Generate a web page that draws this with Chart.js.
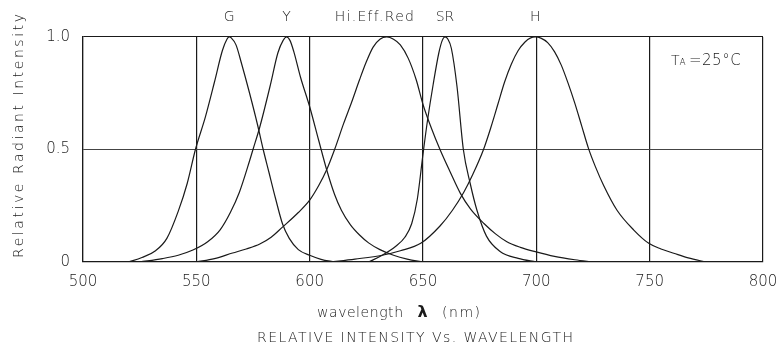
<!DOCTYPE html>
<html>
<head>
<meta charset="utf-8">
<script src="https://cdn.jsdelivr.net/npm/chart.js@4/dist/chart.umd.min.js"></script>
<style>
  html, body { margin: 0; padding: 0; background: #fff; }
  #c { display: block; }
</style>
</head>
<body>
<canvas id="c" width="780" height="349"></canvas>
<script>
// Relative spectral intensity of five LED colours versus wavelength (nm)
const gWavelength = [520, 526, 532, 537, 542, 546, 549.6, 554, 558, 561.5, 563.5, 564.5, 565.5, 567.5, 570, 573.5, 577, 579.5, 582, 585, 588, 591, 595, 600, 605, 611];
const gIntensity  = [0, 0.02, 0.05, 0.105, 0.225, 0.35, 0.5, 0.645, 0.8, 0.94, 0.99, 1.0, 0.995, 0.965, 0.88, 0.75, 0.61, 0.5, 0.4, 0.28, 0.17, 0.105, 0.055, 0.03, 0.012, 0];

const yWavelength = [525, 535, 542, 548.5, 555, 560.5, 565, 569, 573.5, 575, 578, 582.5, 586, 588.3, 589.8, 591.3, 593, 596, 600, 604, 607.5, 611, 614, 618, 622, 626, 631, 637, 643, 650];
const yIntensity  = [0, 0.015, 0.03, 0.053, 0.09, 0.143, 0.22, 0.31, 0.45, 0.5, 0.6, 0.78, 0.93, 0.985, 1.0, 0.985, 0.935, 0.82, 0.69, 0.54, 0.41, 0.3, 0.23, 0.165, 0.12, 0.085, 0.055, 0.03, 0.013, 0];

const redWavelength = [550, 558, 566, 572, 578, 583, 588, 595, 600, 604, 607.5, 611, 615, 618.5, 622, 625, 628, 631, 634, 637, 640, 643.5, 647, 650, 653.5, 657.5, 662, 666.5, 671, 677, 682, 687, 693, 699.5, 708, 717, 725];
const redIntensity  = [0, 0.015, 0.04, 0.058, 0.08, 0.11, 0.155, 0.22, 0.275, 0.34, 0.41, 0.5, 0.616, 0.71, 0.81, 0.89, 0.955, 0.99, 1.0, 0.99, 0.965, 0.905, 0.81, 0.7, 0.6, 0.5, 0.4, 0.305, 0.235, 0.17, 0.125, 0.09, 0.065, 0.046, 0.025, 0.01, 0];

const srWavelength = [626, 632, 638, 642, 645, 647.5, 650, 652, 654.5, 657, 658.5, 659.7, 661, 662.5, 665, 667.8, 670.8, 673.8, 678, 684, 692, 700];
const srIntensity  = [0, 0.03, 0.07, 0.11, 0.17, 0.28, 0.48, 0.63, 0.79, 0.93, 0.985, 1.0, 0.99, 0.95, 0.78, 0.5, 0.35, 0.23, 0.115, 0.047, 0.016, 0];

const hWavelength = [609, 620, 632, 640, 649, 657.5, 663, 668, 672, 676.7, 680, 683, 686, 689, 692, 695, 697.5, 699.5, 702, 705, 708, 711, 714, 717, 720, 723, 726, 729.7, 735.6, 743, 749.6, 755, 760.6, 767, 775];
const hIntensity  = [0, 0.013, 0.03, 0.05, 0.083, 0.16, 0.23, 0.31, 0.39, 0.5, 0.6, 0.7, 0.8, 0.88, 0.94, 0.978, 0.996, 1.0, 0.995, 0.975, 0.935, 0.875, 0.795, 0.705, 0.605, 0.505, 0.425, 0.34, 0.23, 0.142, 0.083, 0.058, 0.039, 0.018, 0];

const seriesNames = ['G', 'Y', 'Hi.Eff.Red', 'SR', 'H'];
const seriesWavelengths = [gWavelength, yWavelength, redWavelength, srWavelength, hWavelength];
const seriesIntensities = [gIntensity, yIntensity, redIntensity, srIntensity, hIntensity];

const xTickValues = [500, 550, 600, 650, 700, 750, 800];
const yTickValues = [0, 0.5, 1.0];

const FONT = "'DejaVu Sans', 'Liberation Sans', sans-serif";
const INK = '#1a1a1a';

function toPoints(xs, ys) {
  return xs.map((x, i) => ({ x: x, y: ys[i] }));
}

const datasets = seriesNames.map((name, i) => ({
  label: name,
  data: toPoints(seriesWavelengths[i], seriesIntensities[i]),
  borderColor: INK,
  borderWidth: 1.2,
  pointRadius: 0,
  fill: false,
  cubicInterpolationMode: 'monotone'
}));

// Draw a string stretched with letter spacing so it spans a given width
function spacedText(ctx, text, cx, cy, font, width) {
  ctx.save();
  ctx.font = font;
  ctx.letterSpacing = '0px';
  const natural = ctx.measureText(text).width;
  const gap = text.length > 1 ? Math.max(0, (width - natural) / (text.length - 1)) : 0;
  ctx.letterSpacing = gap + 'px';
  const total = natural + gap * (text.length - 1);
  ctx.textAlign = 'left';
  ctx.textBaseline = 'middle';
  ctx.fillText(text, cx - total / 2, cy);
  ctx.restore();
}

const annotations = {
  id: 'annotations',
  afterDraw(chart) {
    const ctx = chart.ctx;
    const xs = chart.scales.x;
    ctx.save();
    ctx.fillStyle = INK;

    // curve names above the peak of each curve
    seriesNames.forEach((name, i) => {
      const ys = seriesIntensities[i];
      const peak = seriesWavelengths[i][ys.indexOf(Math.max(...ys))];
      let px = xs.getPixelForValue(peak);
      if (name === 'Hi.Eff.Red') px -= 12;
      const w = name === 'Hi.Eff.Red' ? 80 : 0;
      spacedText(ctx, name, px, 17, '300 14px ' + FONT, w);
    });

    // ambient temperature note
    ctx.font = '300 14px ' + FONT;
    ctx.textBaseline = 'alphabetic';
    ctx.textAlign = 'left';
    ctx.fillText('T', 671, 65);
    ctx.font = '300 9px ' + FONT;
    ctx.fillText('A', 679.5, 65);
    ctx.font = '300 15px ' + FONT;
    ctx.letterSpacing = '0.5px';
    ctx.fillText('=25°C', 689, 65);
    ctx.letterSpacing = '0px';

    // vertical axis title
    ctx.save();
    ctx.translate(19, 136);
    ctx.rotate(-Math.PI / 2);
    spacedText(ctx, 'Relative Radiant Intensity', 0, 0, '300 14px ' + FONT, 244);
    ctx.restore();

    // horizontal axis title: wavelength λ (nm)
    spacedText(ctx, 'wavelength', 360, 313, '300 14px ' + FONT, 86);
    ctx.font = 'bold 16px ' + FONT;
    ctx.textAlign = 'center';
    ctx.textBaseline = 'middle';
    ctx.fillText('λ', 422.5, 313);
    spacedText(ctx, '(nm)', 461, 313, '300 14px ' + FONT, 38);

    // caption
    spacedText(ctx, 'RELATIVE INTENSITY Vs. WAVELENGTH', 415, 338, '300 14px ' + FONT, 316);
    ctx.restore();
  }
};

new Chart(document.getElementById('c'), {
  type: 'line',
  data: { datasets: datasets },
  plugins: [annotations],
  options: {
    responsive: false,
    animation: false,
    events: [],
    layout: { padding: { top: 37, right: 17, left: 0, bottom: 0 } },
    plugins: { legend: { display: false }, tooltip: { enabled: false } },
    scales: {
      x: {
        type: 'linear',
        min: 500,
        max: 800,
        afterBuildTicks: (s) => { s.ticks = xTickValues.map(v => ({ value: v })); },
        afterFit: (s) => { s.height = 87; s.paddingLeft = 0; s.paddingRight = 0; },
        grid: { color: INK, lineWidth: 1.2, drawTicks: false },
        border: { display: true, color: INK, width: 1.2 },
        ticks: {
          padding: 11,
          color: INK,
          maxRotation: 0,
          font: { family: FONT, size: 15, weight: '300' },
          callback: (v) => String(v)
        }
      },
      y: {
        min: 0,
        max: 1,
        afterBuildTicks: (s) => { s.ticks = yTickValues.map(v => ({ value: v })); },
        afterFit: (s) => { s.width = 83; s.paddingTop = 0; s.paddingBottom = 0; },
        grid: {
          color: (c) => (c.tick && c.tick.value === 0.5 ? '#444' : INK),
          lineWidth: 1.1,
          drawTicks: false
        },
        border: { display: true, color: INK, width: 1.2 },
        ticks: {
          padding: 13,
          color: INK,
          font: { family: FONT, size: 15, weight: '300' },
          callback: (v) => (v === 0 ? '0' : v.toFixed(1))
        }
      }
    }
  }
});
</script>
</body>
</html>
